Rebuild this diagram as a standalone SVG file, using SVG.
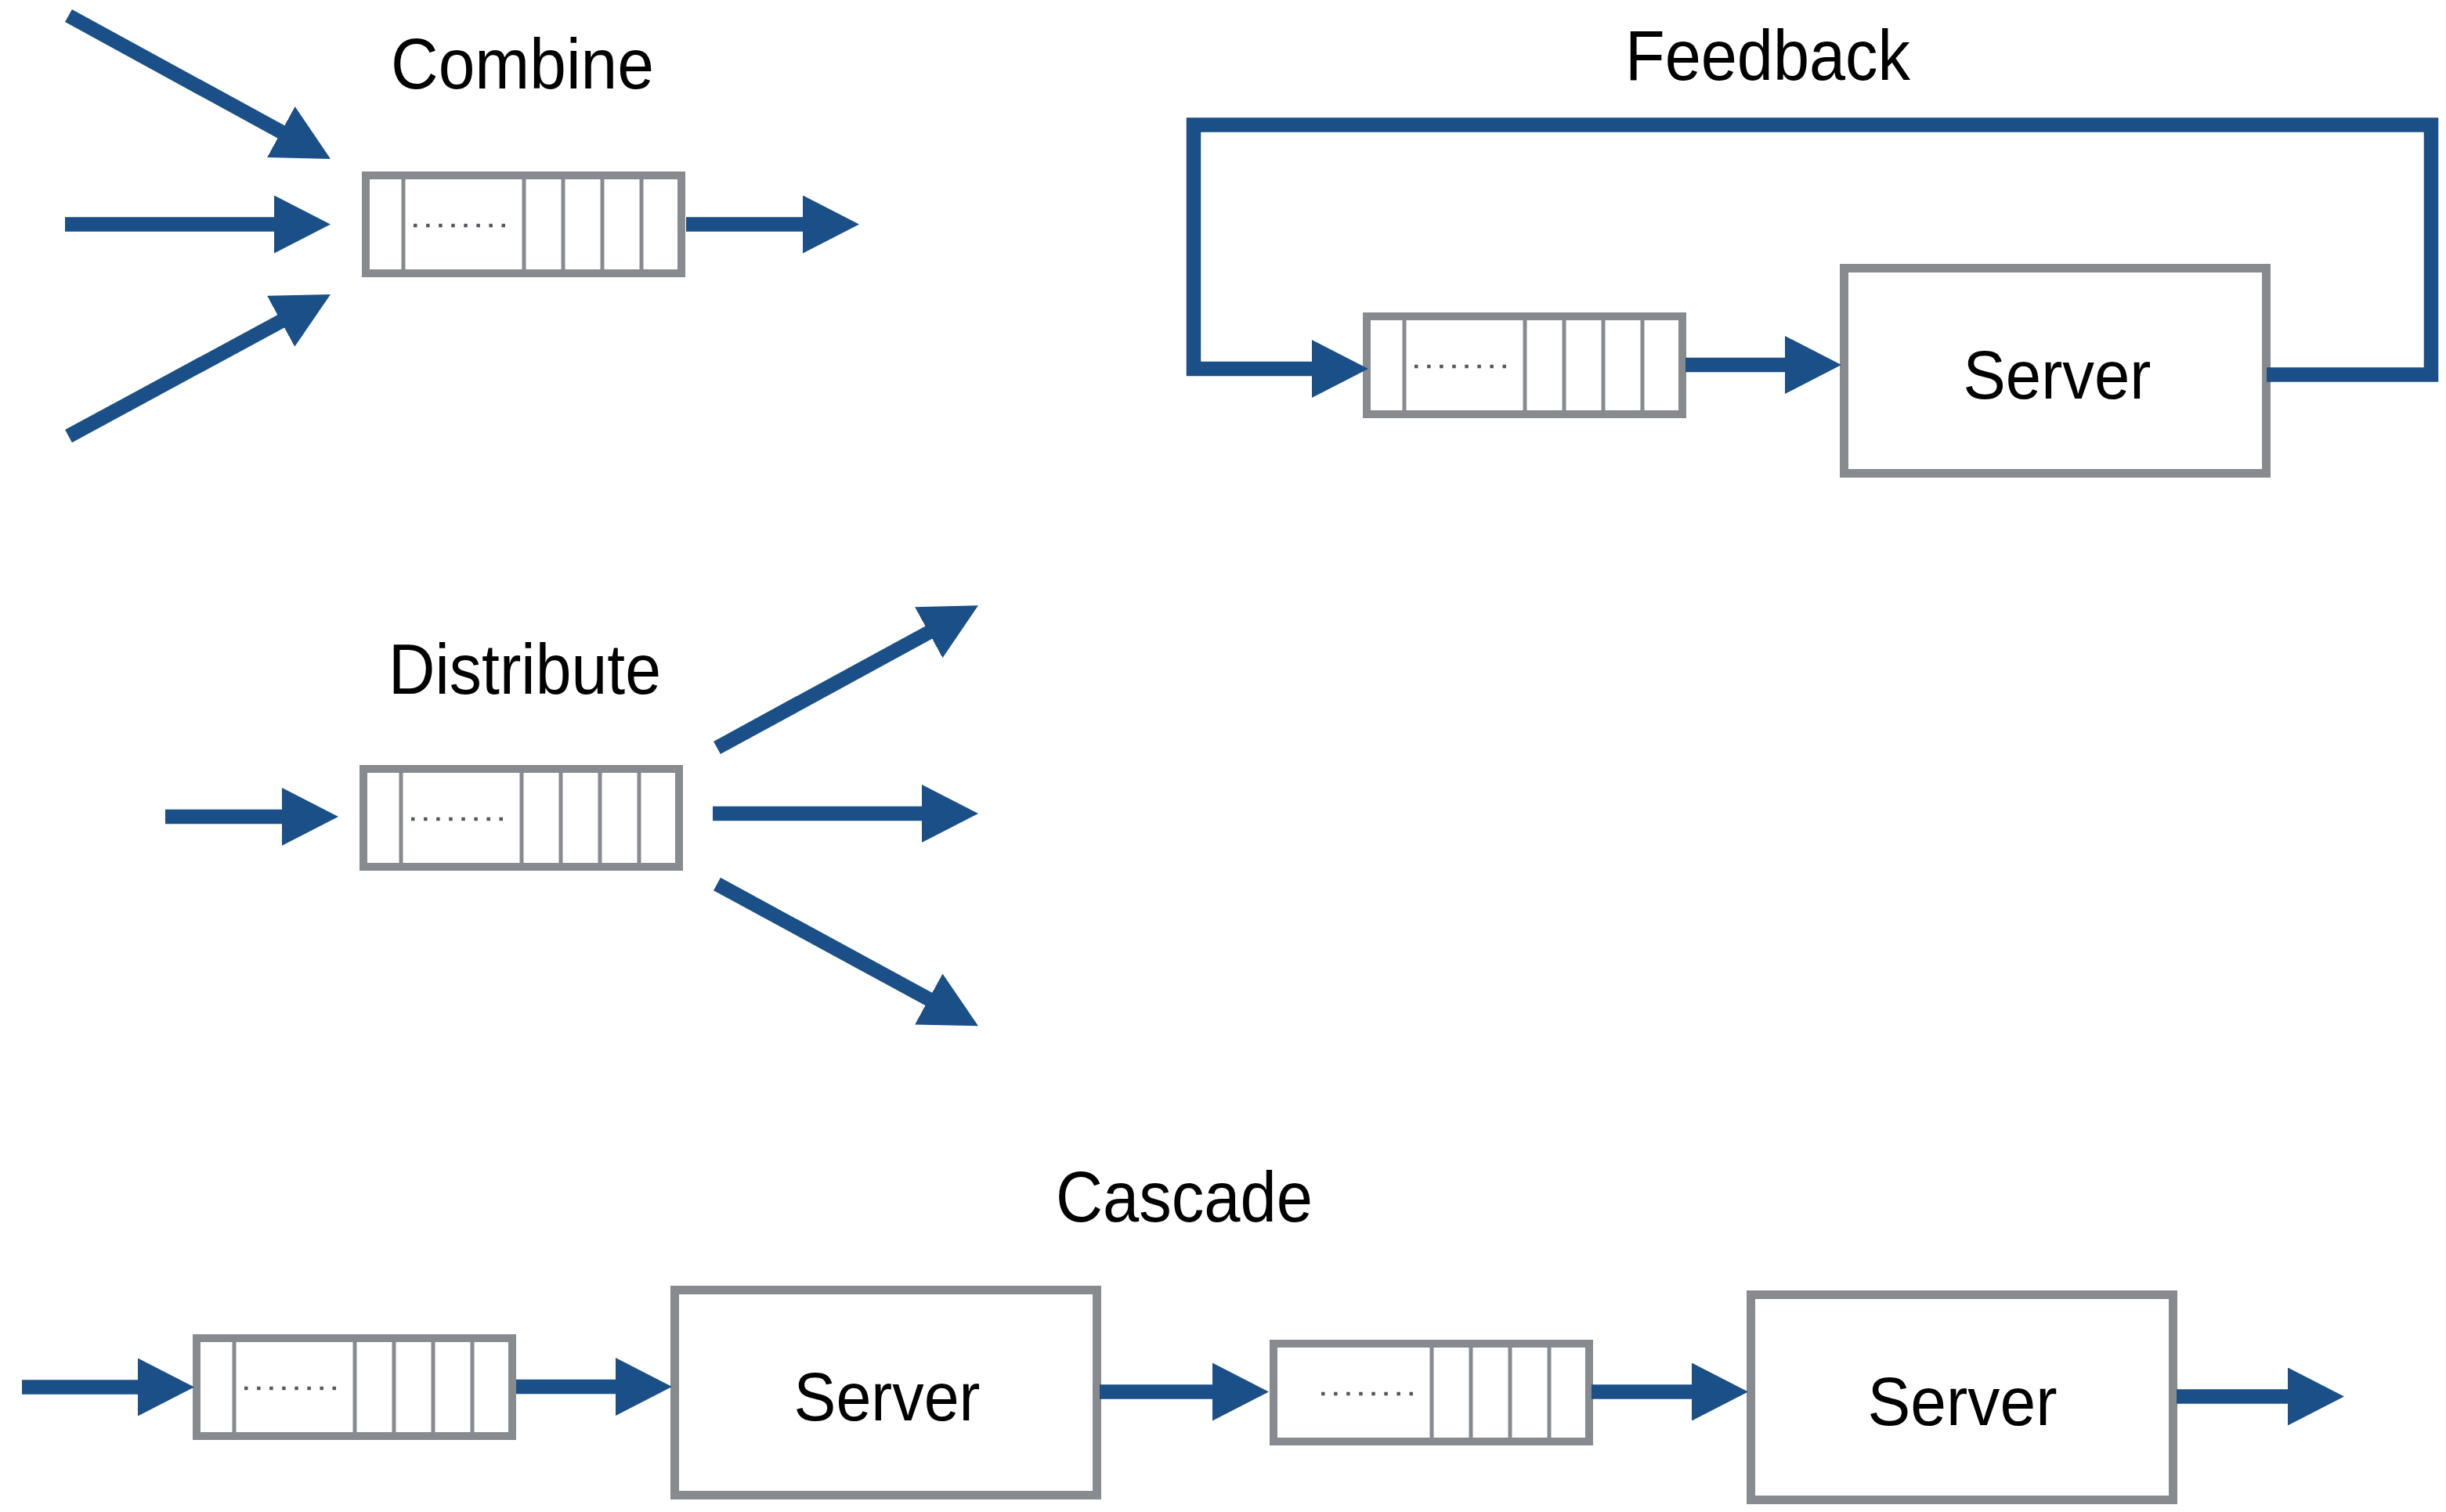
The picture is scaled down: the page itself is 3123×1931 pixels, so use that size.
<svg xmlns="http://www.w3.org/2000/svg" xmlns:xlink="http://www.w3.org/1999/xlink" width="3123" height="1931" viewBox="0 0 3123 1931">
  <style>
    .title { font-family: "Liberation Sans", Arial, Helvetica, sans-serif; font-size: 90px; fill: #000; text-anchor: middle; }
    .label { font-family: "Liberation Sans", Arial, Helvetica, sans-serif; font-size: 88px; fill: #000; text-anchor: middle; }
    .frame { fill: #ffffff; stroke: #878a8e; stroke-width: 10; }
    .server { fill: #ffffff; stroke: #878a8e; stroke-width: 11; }
    .slot { stroke: #878a8e; stroke-width: 5; }
    .dots { stroke: #55595e; stroke-width: 4.5; stroke-dasharray: 4.5 11.57; }
    .flow { fill: none; stroke: #1a5087; stroke-width: 18.5; stroke-linejoin: miter; marker-end: url(#head); }
  </style>
  <defs>
    <marker id="head" markerUnits="userSpaceOnUse" viewBox="0 0 72 74" markerWidth="72" markerHeight="74" refX="12" refY="37" orient="auto">
      <path d="M0 0 L72 37 L0 74 Z" fill="#1a5087"/>
    </marker>
    <!-- queue buffer: 413 x 135, open slot on the left, four filled slots on the right -->
    <g id="queue-body">
      <rect class="frame" x="5" y="5" width="403" height="125"/>
      <line class="slot" x1="207" y1="10" x2="207" y2="125"/>
      <line class="slot" x1="257" y1="10" x2="257" y2="125"/>
      <line class="slot" x1="307" y1="10" x2="307" y2="125"/>
      <line class="slot" x1="357" y1="10" x2="357" y2="125"/>
      <line class="dots" x1="66" y1="69" x2="183" y2="69"/>
    </g>
    <g id="queue">
      <use xlink:href="#queue-body" href="#queue-body"/>
      <line class="slot" x1="53" y1="10" x2="53" y2="125"/>
    </g>
    <rect id="server-box" class="server" x="5.5" y="5.5" width="539" height="262"/>
  </defs>

  <!-- section titles -->
  <g id="titles">
    <text class="title" x="667" y="113" textLength="336" lengthAdjust="spacingAndGlyphs">Combine</text>
    <text class="title" x="2257" y="102" textLength="364" lengthAdjust="spacingAndGlyphs">Feedback</text>
    <text class="title" x="670" y="886" textLength="348" lengthAdjust="spacingAndGlyphs">Distribute</text>
    <text class="title" x="1512" y="1560" textLength="328" lengthAdjust="spacingAndGlyphs">Cascade</text>
  </g>

  <!-- nodes -->
  <g id="combine-queue" transform="translate(462 219)">
    <use xlink:href="#queue" href="#queue"/>
  </g>
  <g id="feedback-queue" transform="translate(1740 399)">
    <use xlink:href="#queue" href="#queue"/>
  </g>
  <g id="feedback-server" transform="translate(2349 337)">
    <use xlink:href="#server-box" href="#server-box"/>
    <text class="label" x="277.5" y="172" textLength="240" lengthAdjust="spacingAndGlyphs">Server</text>
  </g>
  <g id="distribute-queue" transform="translate(459 977)">
    <use xlink:href="#queue" href="#queue"/>
  </g>
  <g id="cascade-queue-1" transform="translate(246 1704)">
    <use xlink:href="#queue" href="#queue"/>
  </g>
  <g id="cascade-server-1" transform="translate(856 1642)">
    <use xlink:href="#server-box" href="#server-box"/>
    <text class="label" x="276.5" y="172" textLength="238" lengthAdjust="spacingAndGlyphs">Server</text>
  </g>
  <g id="cascade-queue-2" transform="translate(1621 1711)">
    <use xlink:href="#queue-body" href="#queue-body"/>
  </g>
  <g id="cascade-server-2" transform="translate(2230 1648)">
    <use xlink:href="#server-box" href="#server-box"/>
    <text class="label" x="275.5" y="172" textLength="242" lengthAdjust="spacingAndGlyphs">Server</text>
  </g>

  <!-- connectors -->
  <g id="connectors">
    <!-- combine -->
    <line class="flow" x1="87.5" y1="20" x2="369.4" y2="174.2"/>
    <line class="flow" x1="83" y1="286.5" x2="362" y2="286.5"/>
    <line class="flow" x1="87.5" y1="557" x2="369.2" y2="404.6"/>
    <line class="flow" x1="876" y1="286.5" x2="1037" y2="286.5"/>
    <!-- feedback -->
    <line class="flow" x1="2152" y1="466" x2="2291" y2="466"/>
    <path class="flow" d="M2894 478.5 H3104 V159.5 H1524 V471 H1687"/>
    <!-- distribute -->
    <line class="flow" x1="211" y1="1043" x2="372" y2="1043"/>
    <line class="flow" x1="910" y1="1039" x2="1189" y2="1039"/>
    <line class="flow" x1="915.5" y1="955" x2="1196.3" y2="802"/>
    <line class="flow" x1="915.5" y1="1129" x2="1196.3" y2="1281.7"/>
    <!-- cascade -->
    <line class="flow" x1="28" y1="1771.5" x2="188" y2="1771.5"/>
    <line class="flow" x1="659" y1="1771" x2="798" y2="1771"/>
    <line class="flow" x1="1404" y1="1777.5" x2="1560" y2="1777.5"/>
    <line class="flow" x1="2032" y1="1777.5" x2="2172" y2="1777.5"/>
    <line class="flow" x1="2779" y1="1783.5" x2="2933" y2="1783.5"/>
  </g>
</svg>
